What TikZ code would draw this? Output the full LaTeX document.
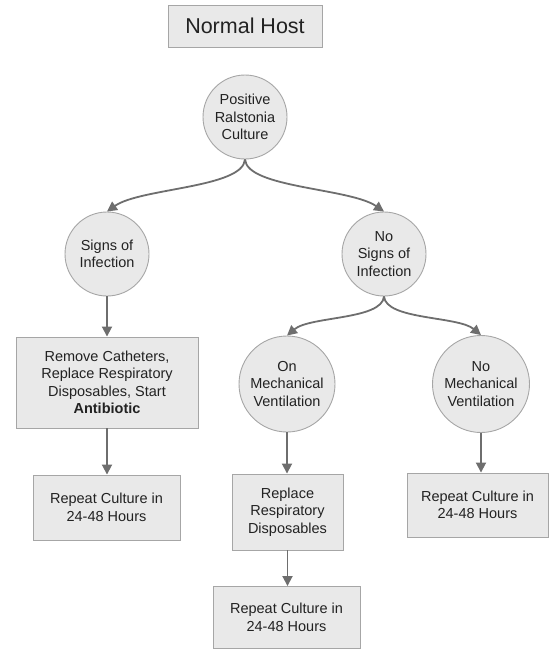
\documentclass[tikz,border=0pt]{standalone}
\usepackage{fontspec}
\setmainfont{Liberation Sans}
\usetikzlibrary{arrows.meta}
\definecolor{boxfill}{HTML}{E9E9E9}
\definecolor{boxline}{HTML}{A6A6A6}
\definecolor{arrowc}{HTML}{6E6E6E}
\definecolor{txt}{HTML}{222222}
\begin{document}
\begin{tikzpicture}[x=1pt,y=-1pt,
  box/.style={draw=boxline,fill=boxfill,line width=0.9pt,inner sep=0pt,align=center,text=txt,
    font=\fontsize{14.5}{17.5}\selectfont},
  circ/.style={box,circle},
  conn/.style={draw=arrowc,line width=1.8pt,-{Triangle[length=10pt,width=10pt]}}]
\useasboundingbox (0,0) rectangle (550,653);
\node[box,minimum width=154,minimum height=42,font=\fontsize{21.5}{24}\selectfont] (host) at (245,26) {Normal Host};
\node[circ,minimum size=84] (pos) at (245,117) {Positive\\Ralstonia\\Culture};
\node[circ,minimum size=84] (sign) at (107,254) {Signs of\\Infection};
\node[circ,minimum size=84] (nosign) at (384,254) {No\\Signs of\\Infection};
\node[box,minimum width=182,minimum height=91] (remove) at (107,382.5) {Remove Catheters,\\Replace Respiratory\\Disposables, Start\\\textbf{Antibiotic}};
\node[box,minimum width=147,minimum height=65] (rep1) at (106.5,507.5) {Repeat Culture in\\24-48 Hours};
\node[circ,minimum size=96] (onmech) at (287,384) {On\\Mechanical\\Ventilation};
\node[circ,minimum size=97] (nomech) at (481,384) {No\\Mechanical\\Ventilation};
\node[box,minimum width=111,minimum height=76] (replace) at (287.5,512) {Replace\\Respiratory\\Disposables};
\node[box,minimum width=147,minimum height=62] (rep2) at (286.5,617.5) {Repeat Culture in\\24-48 Hours};
\node[box,minimum width=141,minimum height=64] (rep3) at (477.5,505) {Repeat Culture in\\24-48 Hours};
\draw[conn] (pos.south) .. controls (243,188) and (140,188) .. (sign.north);
\draw[conn] (pos.south) .. controls (247,188) and (350,188) .. (nosign.north);
\draw[conn] (nosign.south) .. controls (382,320) and (310,316) .. (onmech.north);
\draw[conn] (nosign.south) .. controls (386,320) and (458,316) .. (nomech.north);
\draw[conn] (sign.south) -- (remove.north);
\draw[conn] (remove.south) -- (rep1.north -| remove.south);
\draw[conn] (onmech.south) -- (replace.north -| onmech.south);
\draw[conn] (replace.south) -- (rep2.north -| replace.south);
\draw[conn] (nomech.south) -- (rep3.north -| nomech.south);
\end{tikzpicture}
\end{document}
